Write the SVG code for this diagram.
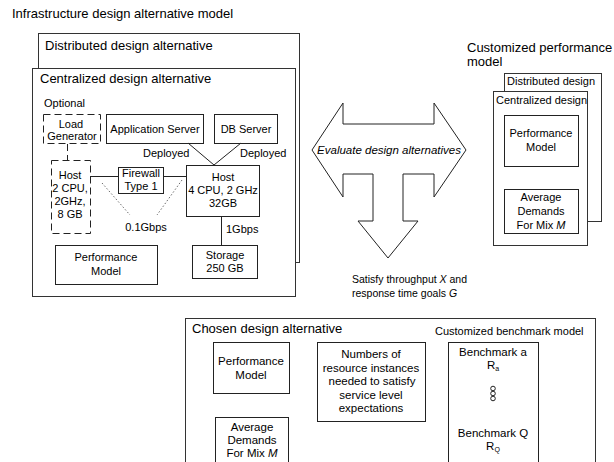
<svg xmlns="http://www.w3.org/2000/svg" width="614" height="462" viewBox="0 0 614 462">
  <style>
    text { font-family: "Liberation Sans", Arial, sans-serif; fill: #000; }
    .t13 { font-size: 13px; }
    .t11 { font-size: 11px; }
    .t115 { font-size: 11.5px; }
    .t105 { font-size: 10.5px; }
    .c { text-anchor: middle; }
    .box { fill: #fff; stroke: #222; stroke-width: 1; }
    .frame { fill: #fff; stroke: #333; stroke-width: 1; }
    .dash { fill: none; stroke: #222; stroke-width: 1; stroke-dasharray: 7 4; }
    .ln { fill: none; stroke: #222; stroke-width: 1; }
    .dot { fill: none; stroke: #444; stroke-width: 0.8; stroke-dasharray: 1.5 2; }
  </style>
  <rect width="614" height="462" fill="#fff"/>

  <!-- Infrastructure design alternative model -->
  <text class="t13" x="12" y="18">Infrastructure design alternative model</text>
  <g id="distributed-frame">
    <rect class="frame" x="38.5" y="33.5" width="261" height="229"/>
    <text class="t13" x="45" y="50">Distributed design alternative</text>
  </g>
  <g id="centralized-frame">
    <rect class="frame" x="32.5" y="68.5" width="263" height="228"/>
    <text class="t13" x="40" y="83">Centralized design alternative</text>
  </g>

  <g id="load-generator">
    <text class="t11" x="44" y="107">Optional</text>
    <rect class="dash" x="43.5" y="114.5" width="57" height="29"/>
    <text class="t11 c" x="71" y="128">Load</text>
    <text class="t11 c" x="72" y="140">Generator</text>
  </g>
  <g id="host-small">
    <rect class="dash" x="51.5" y="160.5" width="39" height="73"/>
    <text class="t11 c" x="70" y="179">Host</text>
    <text class="t11 c" x="70" y="192">2 CPU,</text>
    <text class="t11 c" x="70" y="205">2GHz,</text>
    <text class="t11 c" x="70" y="218">8 GB</text>
  </g>
  <g id="app-server">
    <rect class="box" x="106.5" y="114.5" width="97" height="29"/>
    <text class="t11 c" x="155" y="133">Application Server</text>
  </g>
  <g id="db-server">
    <rect class="box" x="214.5" y="114.5" width="63" height="29"/>
    <text class="t11 c" x="246" y="133">DB Server</text>
  </g>
  <g id="firewall">
    <rect class="box" x="118.5" y="167.5" width="45" height="26"/>
    <text class="t11 c" x="141" y="177">Firewall</text>
    <text class="t11 c" x="141" y="190">Type 1</text>
  </g>
  <g id="host-main">
    <rect class="box" x="186.5" y="165.5" width="73" height="51"/>
    <text class="t11 c" x="223" y="181">Host</text>
    <text class="t11 c" x="223" y="194">4 CPU, 2 GHz</text>
    <text class="t11 c" x="223" y="207">32GB</text>
  </g>
  <g id="storage">
    <rect class="box" x="192.5" y="245.5" width="65" height="33"/>
    <text class="t11 c" x="225" y="259">Storage</text>
    <text class="t11 c" x="225" y="272">250 GB</text>
  </g>
  <g id="perf-model-left">
    <rect class="box" x="55.5" y="245.5" width="102" height="39"/>
    <text class="t11 c" x="106" y="261">Performance</text>
    <text class="t11 c" x="106" y="275">Model</text>
  </g>

  <!-- connectors -->
  <g id="connectors">
    <line class="dash" x1="67.5" y1="144" x2="67.5" y2="160"/>
    <line class="ln" x1="90" y1="176.5" x2="118" y2="176.5"/>
    <line class="ln" x1="163" y1="176.5" x2="186" y2="176.5"/>
    <line class="ln" x1="188" y1="143" x2="214" y2="165"/>
    <line class="ln" x1="241" y1="143" x2="214" y2="165"/>
    <line class="dot" x1="102" y1="183" x2="130" y2="215"/>
    <line class="dot" x1="182" y1="180" x2="157" y2="215"/>
    <line class="ln" x1="221.5" y1="216" x2="221.5" y2="245"/>
    <line class="ln" x1="541.5" y1="166" x2="541.5" y2="189"/>
    <line class="ln" x1="289" y1="365.5" x2="317" y2="365.5"/>
    <line class="ln" x1="249.5" y1="393" x2="249.5" y2="417"/>
  </g>
  <text class="t11" x="143" y="157">Deployed</text>
  <text class="t11" x="240" y="157">Deployed</text>
  <text class="t11 c" x="146" y="231">0.1Gbps</text>
  <text class="t11" x="226" y="233">1Gbps</text>

  <!-- evaluation arrow -->
  <g id="evaluate-arrow">
    <path class="ln" d="M312,150 L343,103 L343,124 L434,124 L434,103 L466,150 L434,197 L434,174 L403,174 L403,221 L418,221 L388,258 L358,221 L373,221 L373,174 L343,174 L343,197 Z"/>
    <text class="t115 c" x="389" y="154" font-style="italic">Evaluate design alternatives</text>
  </g>
  <g id="goals">
    <text class="t105" x="352" y="283">Satisfy throughput <tspan font-style="italic">X</tspan> and</text>
    <text class="t105" x="352" y="297">response time goals <tspan font-style="italic">G</tspan></text>
  </g>

  <!-- customized performance model -->
  <text class="t13" x="467" y="52">Customized performance</text>
  <text class="t13" x="467" y="66">model</text>
  <g id="cp-distributed">
    <rect class="frame" x="504.5" y="73.5" width="97" height="148"/>
    <text class="t11" x="507" y="85">Distributed design</text>
  </g>
  <g id="cp-centralized">
    <rect class="frame" x="493.5" y="91.5" width="94" height="154"/>
    <text class="t11" x="496" y="104">Centralized design</text>
  </g>
  <g id="cp-perf-model">
    <rect class="box" x="504.5" y="115.5" width="74" height="51"/>
    <text class="t11 c" x="541" y="137">Performance</text>
    <text class="t11 c" x="541" y="151">Model</text>
  </g>
  <g id="cp-demands">
    <rect class="box" x="504.5" y="189.5" width="74" height="44"/>
    <text class="t11 c" x="541" y="201">Average</text>
    <text class="t11 c" x="541" y="215">Demands</text>
    <text class="t11 c" x="541" y="229">For Mix <tspan font-style="italic">M</tspan></text>
  </g>

  <!-- chosen design alternative -->
  <g id="chosen-frame">
    <rect class="frame" x="185.5" y="318.5" width="410" height="160"/>
    <text class="t13" x="192" y="333">Chosen design alternative</text>
    <text class="t11" x="435" y="335">Customized benchmark model</text>
  </g>
  <g id="chosen-perf-model">
    <rect class="box" x="213.5" y="342.5" width="76" height="51"/>
    <text class="t115 c" x="251" y="365">Performance</text>
    <text class="t115 c" x="251" y="379">Model</text>
  </g>
  <g id="resource-instances">
    <rect class="box" x="317.5" y="342.5" width="108" height="79"/>
    <text class="t115 c" x="371" y="358">Numbers of</text>
    <text class="t115 c" x="371" y="372">resource instances</text>
    <text class="t115 c" x="372" y="385">needed to satisfy</text>
    <text class="t115 c" x="371" y="399">service level</text>
    <text class="t115 c" x="371" y="412">expectations</text>
  </g>
  <g id="chosen-demands">
    <rect class="box" x="215.5" y="417.5" width="73" height="60"/>
    <text class="t115 c" x="252" y="431">Average</text>
    <text class="t115 c" x="252" y="444">Demands</text>
    <text class="t115 c" x="252" y="457">For Mix <tspan font-style="italic">M</tspan></text>
  </g>
  <g id="benchmarks">
    <rect class="box" x="448.5" y="342.5" width="90" height="140"/>
    <text class="t115 c" x="493" y="356">Benchmark a</text>
    <text class="t115 c" x="493" y="369">R<tspan font-size="7" dy="2">a</tspan></text>
    <circle class="ln" cx="493" cy="388.5" r="2.3"/>
    <circle class="ln" cx="493" cy="393.5" r="2.3"/>
    <circle class="ln" cx="493" cy="398.5" r="2.3"/>
    <text class="t115 c" x="493" y="437">Benchmark Q</text>
    <text class="t115 c" x="493" y="450">R<tspan font-size="7" dy="2">Q</tspan></text>
  </g>
</svg>
